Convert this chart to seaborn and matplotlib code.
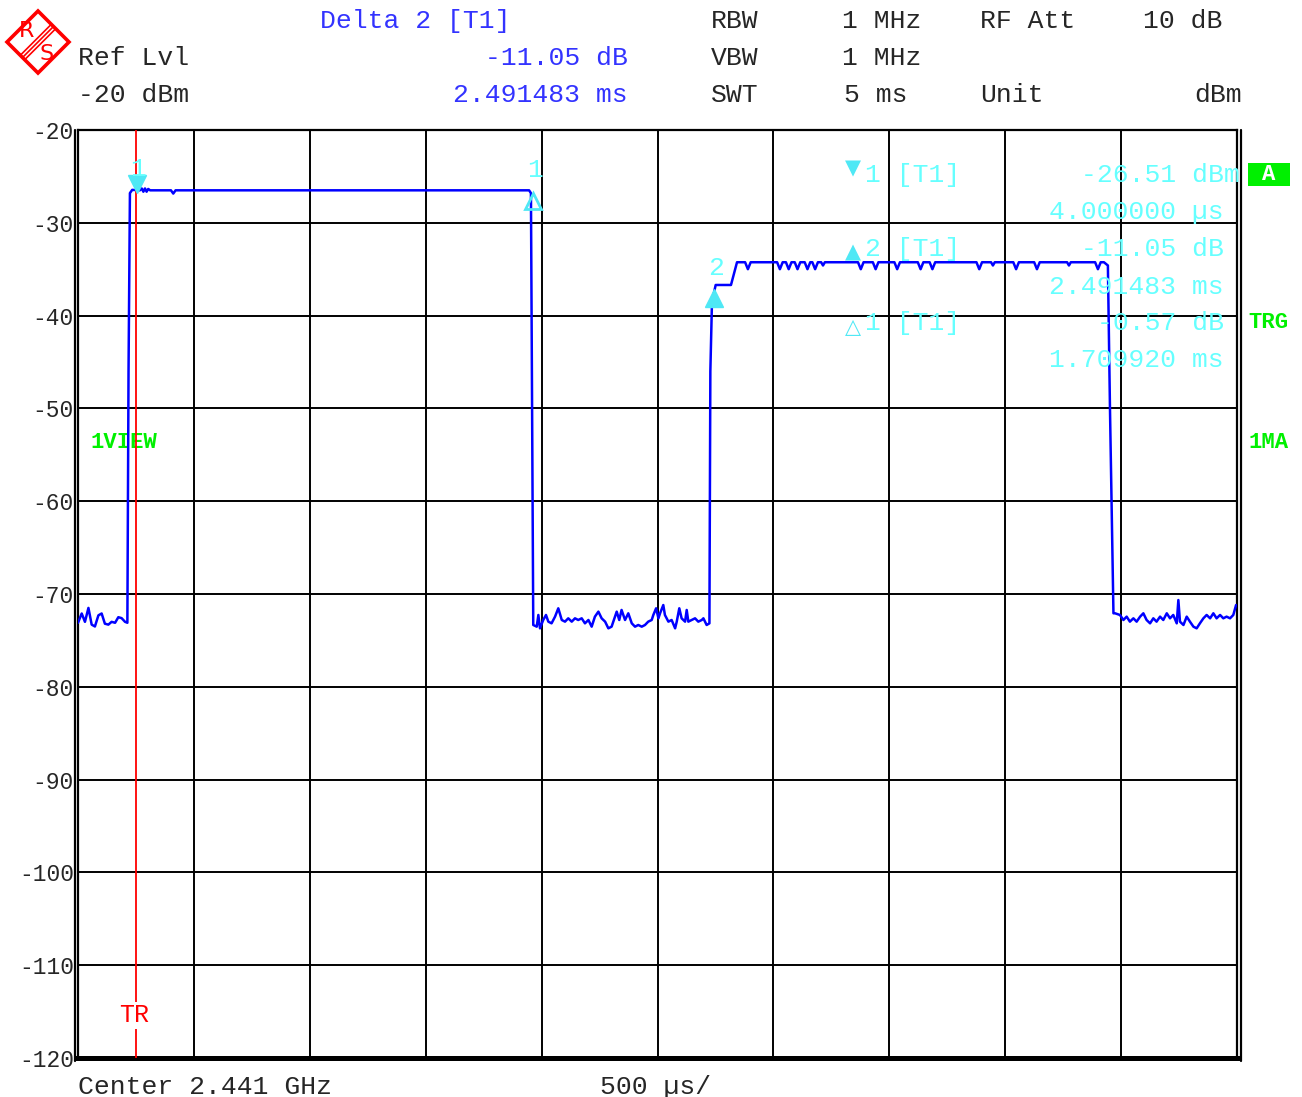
import matplotlib
matplotlib.use("Agg")
import matplotlib.pyplot as plt
import matplotlib.transforms as mtransforms
from matplotlib.patches import Polygon, Rectangle
import numpy as np
import pandas as pd
import seaborn as sns

# ---------------- instrument settings / readouts ----------------
ref_level_dbm = -20
y_min, y_max, y_step = -120, -20, 10
sweep_ms = 5.0
div_ms = 0.5
trigger_ms = 0.25          # trigger position within the sweep

marker1_ms = 0.004         # marker 1, relative to trigger
marker1_dbm = -26.51
delta2_ms = 2.491483       # delta 2, relative to marker 1
delta2_db = -11.05
delta1_ms = 1.709920       # delta 1, relative to marker 1
delta1_db = -0.57

# ---------------- measured trace (sweep time in ms, level in dBm) ----------------
noise_a_ms = [0.000, 0.016, 0.030, 0.045, 0.059, 0.073, 0.088, 0.102, 0.116, 0.131,
              0.145, 0.160, 0.174, 0.188, 0.203, 0.213]
noise_a_db = [-73.1, -72.1, -73.0, -71.5, -73.3, -73.5, -72.3, -72.1, -73.2, -73.3,
              -73.0, -73.1, -72.5, -72.6, -73.0, -73.1]

burst_a_ms = [0.218, 0.224, 0.234, 0.267, 0.275, 0.282, 0.289, 0.296, 0.303, 0.311,
              0.401, 0.411, 0.421, 1.946, 1.954, 1.959]
burst_a_db = [-46.0, -26.8, -26.45, -26.5, -26.3, -26.65, -26.3, -26.65, -26.35, -26.5,
              -26.5, -26.85, -26.5, -26.5, -26.8, -50.0]

noise_b_ms = [1.964, 1.979, 1.986, 1.993, 2.007, 2.019, 2.029, 2.043, 2.058, 2.072,
              2.087, 2.101, 2.115, 2.130, 2.144, 2.158, 2.173, 2.187, 2.202, 2.216,
              2.230, 2.245, 2.259, 2.274, 2.288, 2.302, 2.317, 2.324, 2.335, 2.345,
              2.360, 2.374, 2.389, 2.403, 2.417, 2.432, 2.446, 2.460, 2.475, 2.482,
              2.494, 2.504, 2.511, 2.525, 2.532, 2.547, 2.561, 2.576, 2.583, 2.594,
              2.604, 2.619, 2.626, 2.633, 2.647, 2.662, 2.676, 2.691, 2.698, 2.712,
              2.724]
noise_b_db = [-73.34, -73.52, -72.26, -73.70, -72.80, -72.26, -72.98, -73.16, -72.44, -71.54,
              -72.80, -72.98, -72.62, -72.98, -72.62, -72.80, -72.62, -73.16, -72.80, -73.52,
              -72.44, -71.90, -72.62, -72.98, -73.70, -73.52, -72.44, -71.90, -72.80, -71.72,
              -72.80, -72.08, -73.16, -73.52, -73.34, -73.52, -73.34, -72.98, -72.80, -72.26,
              -71.54, -72.62, -72.08, -71.19, -72.26, -72.98, -72.80, -73.70, -72.98, -71.54,
              -72.62, -72.98, -71.72, -72.98, -72.80, -72.62, -72.98, -72.80, -72.62, -73.34,
              -73.16]

burst_b_ms = [2.728, 2.735, 2.751, 2.817, 2.843,
              2.878, 2.890, 2.902, 3.016, 3.028, 3.040, 3.054, 3.066, 3.078,
              3.092, 3.104, 3.116, 3.135, 3.147, 3.159, 3.168, 3.180, 3.192,
              3.206, 3.214, 3.222, 3.365, 3.377, 3.389, 3.429, 3.441, 3.453,
              3.522, 3.534, 3.546, 3.623, 3.635, 3.647, 3.674, 3.686, 3.698,
              3.876, 3.888, 3.900, 3.939, 3.947, 3.955, 4.035, 4.047, 4.059,
              4.125, 4.137, 4.149, 4.267, 4.275, 4.283, 4.388, 4.400, 4.412,
              4.426, 4.443, 4.452]
burst_b_db = [-46.0, -38.5, -36.7, -36.7, -34.25,
              -34.25, -35.0, -34.25, -34.25, -35.0, -34.25, -34.25, -35.0, -34.25,
              -34.25, -35.0, -34.25, -34.25, -35.0, -34.25, -34.25, -35.0, -34.25,
              -34.25, -34.6, -34.25, -34.25, -35.0, -34.25, -34.25, -35.0, -34.25,
              -34.25, -35.0, -34.25, -34.25, -35.0, -34.25, -34.25, -35.0, -34.25,
              -34.25, -35.0, -34.25, -34.25, -34.6, -34.25, -34.25, -35.0, -34.25,
              -34.25, -35.0, -34.25, -34.25, -34.6, -34.25, -34.25, -35.0, -34.25,
              -34.25, -34.6, -50.0]

noise_c_ms = [4.467, 4.474, 4.495, 4.510, 4.524, 4.538, 4.553, 4.567, 4.582, 4.596,
              4.610, 4.625, 4.639, 4.653, 4.668, 4.682, 4.697, 4.711, 4.725, 4.740,
              4.747, 4.754, 4.769, 4.783, 4.797, 4.812, 4.826, 4.840, 4.855, 4.869,
              4.884, 4.898, 4.912, 4.927, 4.941, 4.955, 4.970, 4.984, 4.996]
noise_c_db = [-72.08, -72.08, -72.26, -72.80, -72.44, -72.98, -72.62, -72.98, -72.44, -72.08,
              -72.80, -73.16, -72.62, -72.98, -72.44, -72.80, -72.08, -72.62, -72.26, -73.16,
              -70.65, -72.98, -73.34, -72.44, -72.98, -73.52, -73.70, -73.16, -72.62, -72.26,
              -72.62, -72.08, -72.62, -72.26, -72.62, -72.44, -72.62, -72.26, -71.19]

trace = pd.DataFrame({
    "time_ms": noise_a_ms + burst_a_ms + noise_b_ms + burst_b_ms + noise_c_ms,
    "level_dbm": noise_a_db + burst_a_db + noise_b_db + burst_b_db + noise_c_db,
})

# ---------------- styling ----------------
sns.set_style("white")
plt.rcParams["font.family"] = ["Liberation Mono", "DejaVu Sans"]

TRACE = "#0000ff"
HEAD_BLUE = "#3333ff"
CYAN = "#66ffff"
CYAN_MK = "#4fe8f5"
GREEN = "#00f000"
RED = "#ff0000"
FS = 19

W, H = 1302, 1097
fig = plt.figure(figsize=(W / 100, H / 100), dpi=100)
fig.patch.set_facecolor("white")


def fx(px):
    return px / W


def fy(py):
    return 1 - py / H


def ftext(px, py, s, **kw):
    kw.setdefault("fontsize", FS)
    kw.setdefault("va", "baseline")
    return fig.text(fx(px), fy(py), s, **kw)


ax = fig.add_axes([fx(78), fy(1058), (1237 - 78) / W, 928 / H])

sns.lineplot(data=trace, x="time_ms", y="level_dbm", estimator=None, sort=False,
             color=TRACE, lw=1.8, ax=ax, zorder=4)

ax.set_xlim(0, sweep_ms)
ax.set_ylim(y_min, y_max)
ax.set_xticks(np.arange(0, sweep_ms + 1e-9, div_ms))
ax.set_xticklabels([])
yt = list(range(y_min, y_max + 1, y_step))
ax.set_yticks(yt)
ax.set_yticklabels([str(v) for v in yt])
ax.tick_params(axis="y", length=0, pad=3, labelsize=16.5)
ax.tick_params(axis="x", length=0)
ax.set_xlabel("")
ax.set_ylabel("")
ax.grid(True, color="black", lw=1.4, zorder=1)
ax.set_axisbelow(True)
for side, sp in ax.spines.items():
    sp.set_color("black")
    sp.set_linewidth(1.6)
ax.spines["bottom"].set_linewidth(3.6)

# double frame lines at the left and right edges
for xpos, dx in ((0, -3.0), (1, 4.0)):
    tr = ax.transAxes + mtransforms.ScaledTranslation(dx / 100, 0, fig.dpi_scale_trans)
    ax.plot([xpos, xpos], [-0.003, 1], transform=tr, color="black", lw=1.6,
            clip_on=False, zorder=6)

# trigger line
ax.axvline(trigger_ms, color=RED, lw=1.3, zorder=5)
ax.text(trigger_ms - 0.01, 0.046, "TR", transform=ax.get_xaxis_transform(), color=RED,
        fontsize=18, ha="center", va="center", zorder=6,
        bbox=dict(facecolor="white", edgecolor="none", pad=1))

# markers on the trace
m1_t = trigger_ms + marker1_ms
d2_t = m1_t + delta2_ms
d1_t = m1_t + delta1_ms
d2_lvl = marker1_dbm + delta2_db
d1_lvl = marker1_dbm + delta1_db


def shifted(dy_px):
    return ax.transData + mtransforms.ScaledTranslation(0, -dy_px / 100, fig.dpi_scale_trans)


ax.plot([m1_t], [marker1_dbm], marker="v", ms=13, color=CYAN_MK, mec=CYAN_MK,
        transform=shifted(-6), zorder=5, clip_on=False)
ax.plot([d1_t], [d1_lvl], marker="^", ms=12, color="none", mec=CYAN_MK, mew=2,
        transform=shifted(5), zorder=5)
ax.plot([d2_t], [d2_lvl], marker="^", ms=13, color=CYAN_MK, mec=CYAN_MK,
        transform=shifted(5), zorder=5)
for t, lvl, lab, dy in ((m1_t, marker1_dbm, "1", 21), (d1_t, d1_lvl, "1", 26),
                        (d2_t, d2_lvl, "2", 25)):
    ax.annotate(lab, xy=(t, lvl), xytext=(1, dy * 0.72), textcoords="offset points",
                color=CYAN, fontsize=FS, ha="center", va="center", zorder=5)

# status label inside the diagram (under the trace)
ax.text(fx(90), fy(443), "1VIEW", transform=fig.transFigure, color=GREEN,
        fontsize=16, fontweight="bold", va="center", ha="left", zorder=2)

# ---------------- header ----------------
ftext(320, 28, "Delta 2 [T1]", color=HEAD_BLUE)
ftext(628, 65, f"{delta2_db:.2f} dB", color=HEAD_BLUE, ha="right")
ftext(628, 102, f"{delta2_ms:.6f} ms", color=HEAD_BLUE, ha="right")
ftext(78, 65, "Ref Lvl")
ftext(78, 102, f"{ref_level_dbm} dBm")
ftext(711, 28, "RBW")
ftext(842, 28, "1 MHz")
ftext(980, 28, "RF Att")
ftext(1143, 28, "10 dB")
ftext(711, 65, "VBW")
ftext(842, 65, "1 MHz")
ftext(711, 102, "SWT")
ftext(844, 102, "5 ms")
ftext(980, 102, "Unit")
ftext(1242, 102, "dBm", ha="right")

# footer
ftext(78, 1094, "Center 2.441 GHz")
ftext(600, 1094, f"{int(div_ms * 1000)} µs/")

# ---------------- marker readout ----------------
tri_kw = dict(color=CYAN_MK, fontsize=15, ha="center", va="center",
              family=["DejaVu Sans"])
ftext(853, 168, "▼", **tri_kw)
ftext(853, 252, "▲", **tri_kw)
ftext(853, 327, "△", **tri_kw)
ftext(865, 182, "1 [T1]", color=CYAN)
ftext(865, 256, "2 [T1]", color=CYAN)
ftext(865, 330, "1 [T1]", color=CYAN)
ftext(1240, 182, f"{marker1_dbm:.2f} dBm", color=CYAN, ha="right")
ftext(1224, 219, f"{marker1_ms * 1000:.6f} µs", color=CYAN, ha="right")
ftext(1224, 256, f"{delta2_db:.2f} dB", color=CYAN, ha="right")
ftext(1224, 294, f"{delta2_ms:.6f} ms", color=CYAN, ha="right")
ftext(1224, 330, f"{delta1_db:.2f} dB", color=CYAN, ha="right")
ftext(1224, 367, f"{delta1_ms:.6f} ms", color=CYAN, ha="right")

# ---------------- right-hand status column ----------------
fig.patches.append(Rectangle((fx(1248), fy(186)), 42 / W, 23 / H, transform=fig.transFigure,
                             facecolor=GREEN, edgecolor="none"))
ftext(1269, 174.5, "A", color="white", fontsize=16, fontweight="bold",
      ha="center", va="center")
ftext(1248, 322, "TRG", color=GREEN, fontsize=16, fontweight="bold", va="center")
ftext(1248, 443, "1MA", color=GREEN, fontsize=16, fontweight="bold", va="center")

# ---------------- R&S logo ----------------
lax = fig.add_axes([0, fy(80), fx(80), 80 / H])
lax.set_xlim(0, 80)
lax.set_ylim(80, 0)
lax.axis("off")
lax.add_patch(Polygon([(38, 11), (69, 42), (38, 73), (7, 42)], closed=True,
                      fill=False, edgecolor=RED, lw=2.6))
for off in (-2.2, 0, 2.2):
    lax.plot([22.5 + off, 53.5 + off], [57.5 + off, 26.5 + off], color=RED, lw=1.2)
lax.text(27, 31, "R", color=RED, fontsize=16, ha="center", va="center",
         family=["DejaVu Sans"])
lax.text(47, 54, "S", color=RED, fontsize=16, ha="center", va="center",
         family=["DejaVu Sans"])

fig.savefig("out.png", dpi=100, facecolor="white")
